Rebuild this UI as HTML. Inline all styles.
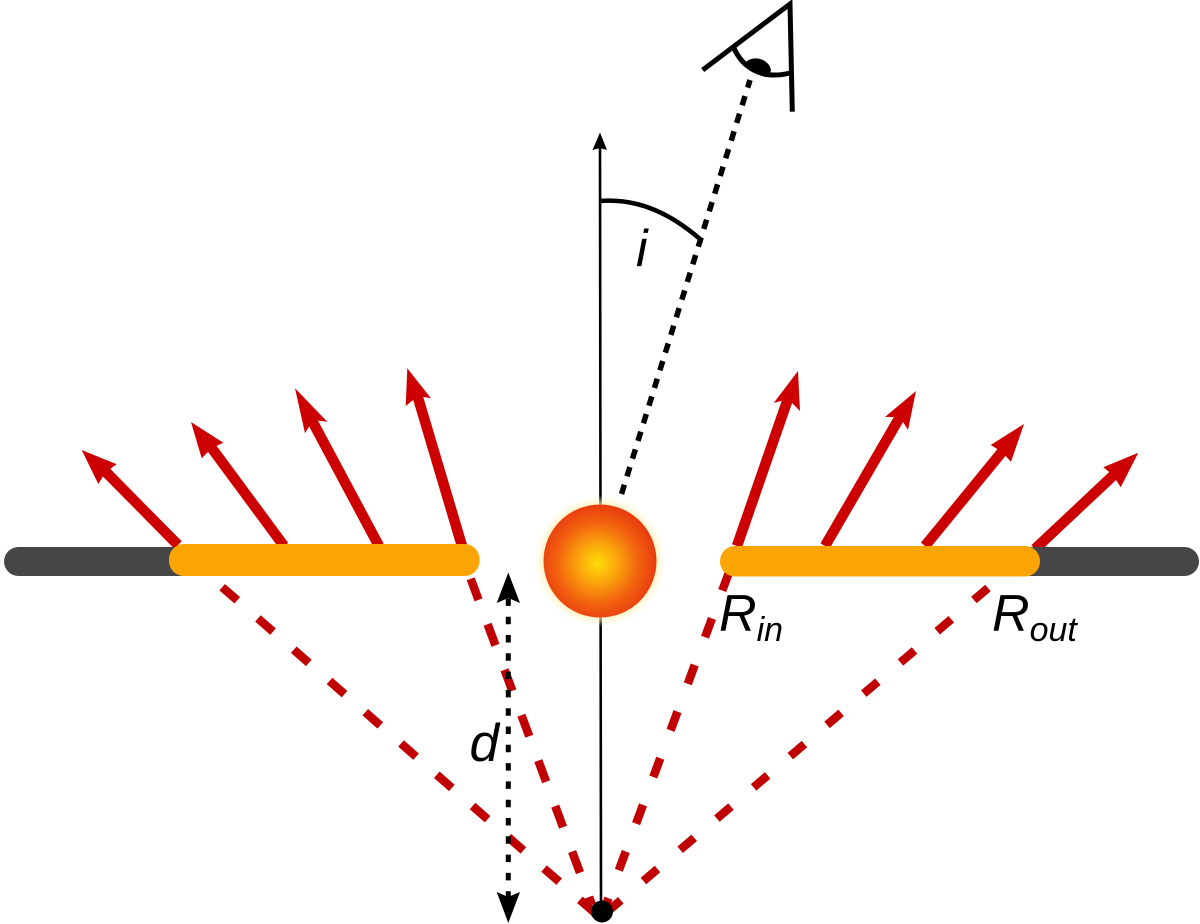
<!DOCTYPE html>
<html>
<head>
<meta charset="utf-8">
<style>
html,body{margin:0;padding:0;background:#fff}
svg{display:block}
text{font-family:"Liberation Sans",sans-serif;font-style:italic;fill:#000}
</style>
</head>
<body>
<svg width="1200" height="924" viewBox="0 0 1200 924" xmlns="http://www.w3.org/2000/svg">
<defs>
<radialGradient id="star" cx="0.48" cy="0.52" r="0.52">
<stop offset="0" stop-color="#ffdc08"/>
<stop offset="0.3" stop-color="#fbab0b"/>
<stop offset="0.7" stop-color="#f2620f"/>
<stop offset="1" stop-color="#e83c0f"/>
</radialGradient>
<radialGradient id="glow" cx="0.5" cy="0.5" r="0.5">
<stop offset="0.86" stop-color="#fff0b0" stop-opacity="0.7"/>
<stop offset="1" stop-color="#fff8dc" stop-opacity="0"/>
</radialGradient>
</defs>

<!-- axis -->
<line x1="600" y1="148" x2="601" y2="905" stroke="#000" stroke-width="2.6"/>
<polygon points="600,132.5 592.5,150 600,148 607,150" fill="#000"/>

<!-- red dashed lines -->
<g stroke="#c00000" stroke-width="8.5" fill="none">
<line x1="222.2" y1="587.2" x2="595" y2="913" stroke-dasharray="20 27.5"/>
<line x1="470.7" y1="578.8" x2="592" y2="905" stroke-dasharray="22.5 26"/>
<line x1="729.2" y1="571.8" x2="606" y2="905" stroke-dasharray="20 29.7"/>
<line x1="988" y1="588" x2="607" y2="912" stroke-dasharray="18.5 29.7"/>
</g>

<!-- red arrows -->
<g stroke="#cc0000" stroke-width="10.5" fill="none">
<line x1="178" y1="545" x2="102" y2="468"/>
<line x1="284" y1="546" x2="208" y2="443"/>
<line x1="379" y1="546" x2="309" y2="415"/>
<line x1="462" y1="546" x2="416" y2="391"/>
<line x1="737" y1="546" x2="790" y2="393"/>
<line x1="825" y1="546" x2="904" y2="410"/>
<line x1="925" y1="546" x2="1006" y2="447"/>
<line x1="1035" y1="549" x2="1118" y2="471"/>
</g>
<g fill="#cc0000">
<polygon points="81.7,450 116.7,464.3 106,471.7 98.3,484"/>
<polygon points="191,422 223.3,442.7 211.7,448.3 201.7,458.3"/>
<polygon points="295,388.3 327.3,421.7 313,420 305,433.3"/>
<polygon points="407.3,368.3 431,398.3 418.3,396 405.7,406"/>
<polygon points="798,371 800,411 788,399 773.7,403"/>
<polygon points="916,391 908,430 900,417 885,417"/>
<polygon points="1024,424 1011,461.7 1001.7,451.7 990.7,445"/>
<polygon points="1138.3,452.7 1120.7,487.3 1113,475 1103.3,467.3"/>
</g>

<!-- disks -->
<rect x="4" y="547" width="200" height="29" rx="14.5" fill="#464646"/>
<rect x="1000" y="547" width="199" height="29" rx="14.5" fill="#464646"/>
<rect x="169" y="544" width="310.5" height="32" rx="15" fill="#fba504"/>
<rect x="720" y="546" width="320" height="30.5" rx="15" fill="#fba504"/>

<!-- star -->
<circle cx="600" cy="561" r="66" fill="url(#glow)"/>
<circle cx="600" cy="561" r="56.5" fill="url(#star)"/>

<!-- line of sight -->
<line x1="621.5" y1="494" x2="750" y2="80" stroke="#000" stroke-width="5.5" stroke-dasharray="9.7 8.8"/>

<!-- angle arc -->
<path d="M600 201 C640 198 672 215 700 239" fill="none" stroke="#000" stroke-width="4.5"/>

<!-- eye -->
<g fill="none" stroke="#000" stroke-width="5">
<polyline points="702.7,70 790,4 792.3,111.7"/>
<path d="M733 46 C742 68 762 80 790 73"/>
</g>
<path d="M745 63 C750 57 760 57 766 62 C769 64 771 68 771 71 L766 77 C757 75 749 70 745 63 Z" fill="#000"/>

<!-- d arrow -->
<line x1="508.3" y1="598.4" x2="508.3" y2="897" stroke="#000" stroke-width="5" stroke-dasharray="7.5 10.8"/>
<polygon points="508.3,572.5 496.7,603 508.3,598 520,603" fill="#000"/>
<polygon points="508.3,923 496.7,892 508.3,897 520,892" fill="#000"/>

<!-- center point -->
<circle cx="602" cy="911.5" r="11" fill="#000"/>

<!-- labels -->
<text x="636" y="266" font-size="52">i</text>
<text x="469.5" y="761" font-size="53">d</text>
<text x="719" y="631" font-size="52">R<tspan font-size="34" dy="10">in</tspan></text>
<text x="992" y="631" font-size="52">R<tspan font-size="34" dy="10">out</tspan></text>
</svg>
</body>
</html>
